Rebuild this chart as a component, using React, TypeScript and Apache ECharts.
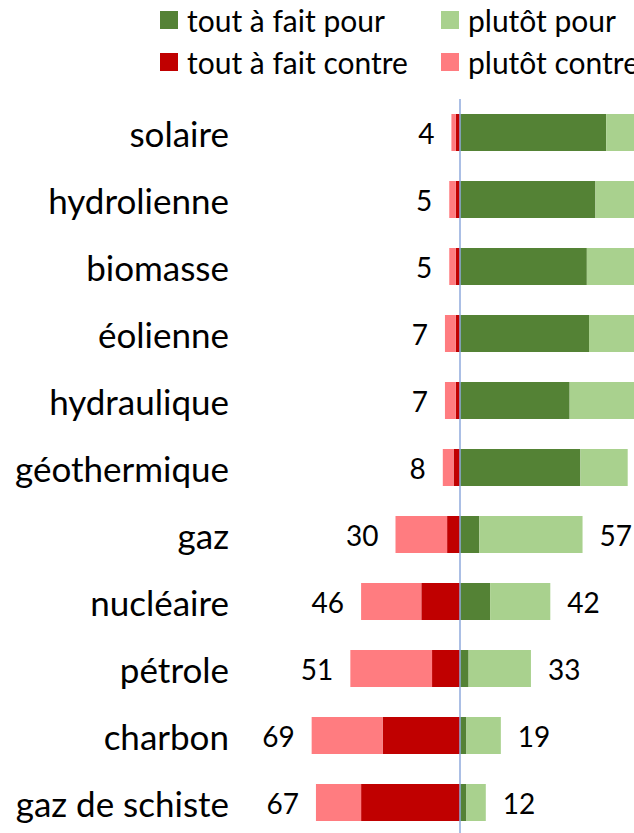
import React, { useEffect, useRef } from "react";
import * as echarts from "echarts";

const categories = ["solaire", "hydrolienne", "biomasse", "éolienne", "hydraulique", "géothermique", "gaz", "nucléaire", "pétrole", "charbon", "gaz de schiste"];
const toutAFaitPour = [68, 63, 59, 60, 51, 56, 9, 14, 4, 3, 3];
const plutotPour = [25, 26, 28, 27, 35, 22, 48, 28, 29, 16, 9];
const toutAFaitContre = [2, 2, 2, 2, 2, 3, 6, 18, 13, 36, 46];
const plutotContre = [2, 3, 3, 5, 5, 5, 24, 28, 38, 33, 21];
// totals for the first six rows fall outside the visible picture
const pourTotals: (number | null)[] = [null, null, null, null, null, null, 57, 42, 33, 19, 12];
const contreTotals = [4, 5, 5, 7, 7, 8, 30, 46, 51, 69, 67];

const FONT = "Lato";

export default function App() {
  const ref = useRef<HTMLDivElement>(null);
  useEffect(() => {
    if (!ref.current) return;
    const chart = echarts.init(ref.current, undefined, { renderer: "svg" });
    const legendItem = (name: string, left: number, top: number) => ({
      data: [name],
      left,
      top,
      itemWidth: 18,
      itemHeight: 18,
      icon: "rect",
      padding: 0,
      selectedMode: false,
      textStyle: { fontFamily: FONT, fontSize: 30, color: "#000", padding: [0, 0, 0, 4] },
    });
    chart.setOption({
      animation: false,
      textStyle: { fontFamily: FONT },
      legend: [
        legendItem("tout à fait pour", 160, 5),
        legendItem("plutôt pour", 441, 5),
        legendItem("tout à fait contre", 160, 47),
        legendItem("plutôt contre", 441, 47),
      ],
      grid: { left: 245, top: 99, width: 430, height: 737, containLabel: false },
      xAxis: {
        type: "value",
        min: -100,
        max: 100,
        show: false,
        splitLine: { show: false },
      },
      yAxis: {
        type: "category",
        data: categories,
        inverse: true,
        axisLine: { show: false },
        axisTick: { show: false },
        axisLabel: { fontFamily: FONT, fontSize: 35, color: "#000", margin: 16 },
      },
      series: [
        {
          name: "tout à fait pour",
          type: "bar",
          stack: "total",
          barWidth: 37,
          data: toutAFaitPour,
          itemStyle: { color: "#548235" },
        },
        {
          name: "plutôt pour",
          type: "bar",
          stack: "total",
          barWidth: 37,
          data: plutotPour,
          itemStyle: { color: "#A9D18E" },
          label: {
            show: true,
            position: "right",
            distance: 17,
            fontFamily: FONT,
            fontSize: 28,
            color: "#000",
            formatter: (p: any) => {
              const v = pourTotals[p.dataIndex];
              return v == null ? "" : String(v);
            },
          },
        },
        {
          name: "tout à fait contre",
          type: "bar",
          stack: "total",
          barWidth: 37,
          data: toutAFaitContre.map((v) => -v),
          itemStyle: { color: "#C00000" },
        },
        {
          name: "plutôt contre",
          type: "bar",
          stack: "total",
          barWidth: 37,
          data: plutotContre.map((v) => -v),
          itemStyle: { color: "#FF7C80" },
          label: {
            show: true,
            position: "left",
            distance: 17,
            fontFamily: FONT,
            fontSize: 28,
            color: "#000",
            formatter: (p: any) => String(contreTotals[p.dataIndex]),
          },
          markLine: {
            silent: true,
            symbol: "none",
            label: { show: false },
            lineStyle: { color: "#8FAADC", width: 1.5, type: "solid" },
            data: [{ xAxis: 0 }],
          },
        },
      ],
    });
    return () => chart.dispose();
  }, []);
  return (
    <div style={{ position: "absolute", left: 0, top: 0, width: 634, height: 833, overflow: "hidden", background: "#fff" }}>
      <div ref={ref} style={{ width: 740, height: 845 }} />
    </div>
  );
}
